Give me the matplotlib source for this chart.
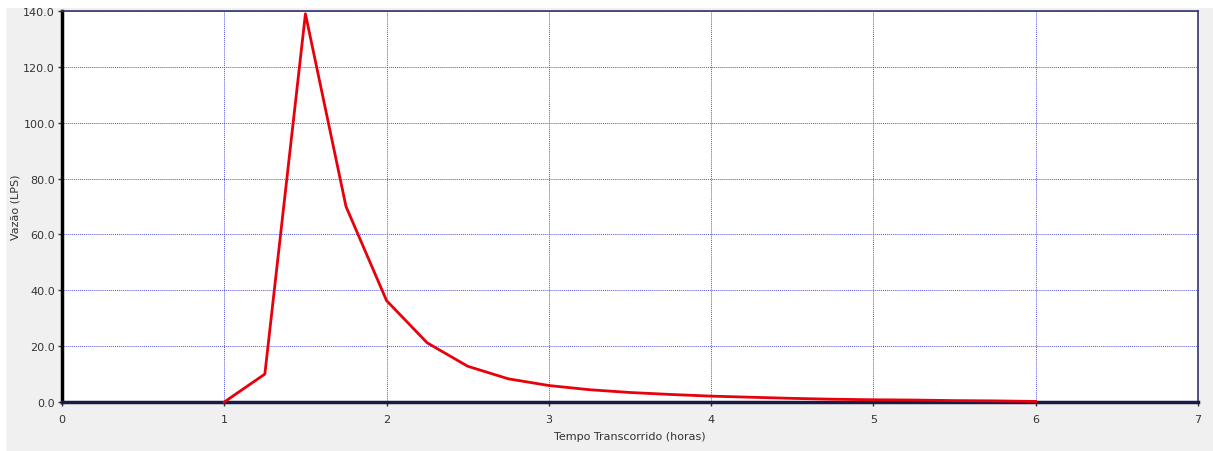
import matplotlib.pyplot as plt
from matplotlib.patches import Rectangle

# hydrograph (time in hours, flow in LPS)
tempo = [1.0, 1.25, 1.5, 1.75, 2.0, 2.25, 2.5, 2.75, 3.0, 3.25, 3.5, 3.75, 4.0,
         4.25, 4.5, 4.75, 5.0, 5.25, 5.5, 5.75, 6.0]
vazao = [0.0, 10.0, 139.0, 70.0, 36.3, 21.2, 12.8, 8.3, 5.9, 4.4, 3.4, 2.7, 2.1,
         1.7, 1.3, 1.0, 0.8, 0.7, 0.5, 0.4, 0.2]
x_ticks = [0, 1, 2, 3, 4, 5, 6, 7]
y_ticks = [0, 20, 40, 60, 80, 100, 120, 140]

W, H = 1213, 452
fig = plt.figure(figsize=(W / 100, H / 100), dpi=100, facecolor="#f0f0f0")
# thin white strip at the top and left edges of the screenshot
fig.patches.append(Rectangle((0, 1 - 8 / H), 1, 8 / H, transform=fig.transFigure,
                             color="white", zorder=-1))
fig.patches.append(Rectangle((0, 0), 5 / W, 1, transform=fig.transFigure,
                             color="white", zorder=-1))

ax = fig.add_axes([62 / W, 1 - 403 / H, (1198 - 62) / W, (403 - 12) / H])
ax.set_facecolor("white")

ax.plot(tempo, vazao, color="#e8000b", lw=2, zorder=3, clip_on=False)

ax.set_xlim(0, 7)
ax.set_ylim(0, 140)
ax.set_xticks(x_ticks)
ax.set_yticks(y_ticks)
ax.set_yticklabels([f"{v:.1f}" for v in y_ticks])
ax.tick_params(labelsize=8, colors="#333333", length=3, width=1, pad=2)
ax.tick_params(axis="x", pad=6)

ax.grid(True, color="#5555dd", linestyle=(0, (1, 1)), lw=0.7)

ax.spines["left"].set_color("black")
ax.spines["left"].set_linewidth(2.5)
ax.spines["bottom"].set_color("#1a1a4a")
ax.spines["bottom"].set_linewidth(2.5)
for s in ["top", "right"]:
    ax.spines[s].set_color("#33336e")
    ax.spines[s].set_linewidth(1.2)

ax.set_xlabel("Tempo Transcorrido (horas)", fontsize=8, color="#333333", labelpad=5)
ax.set_ylabel("Vazão (LPS)", fontsize=8, color="#333333", labelpad=2)

fig.savefig("out.png", dpi=100, facecolor=fig.get_facecolor())
